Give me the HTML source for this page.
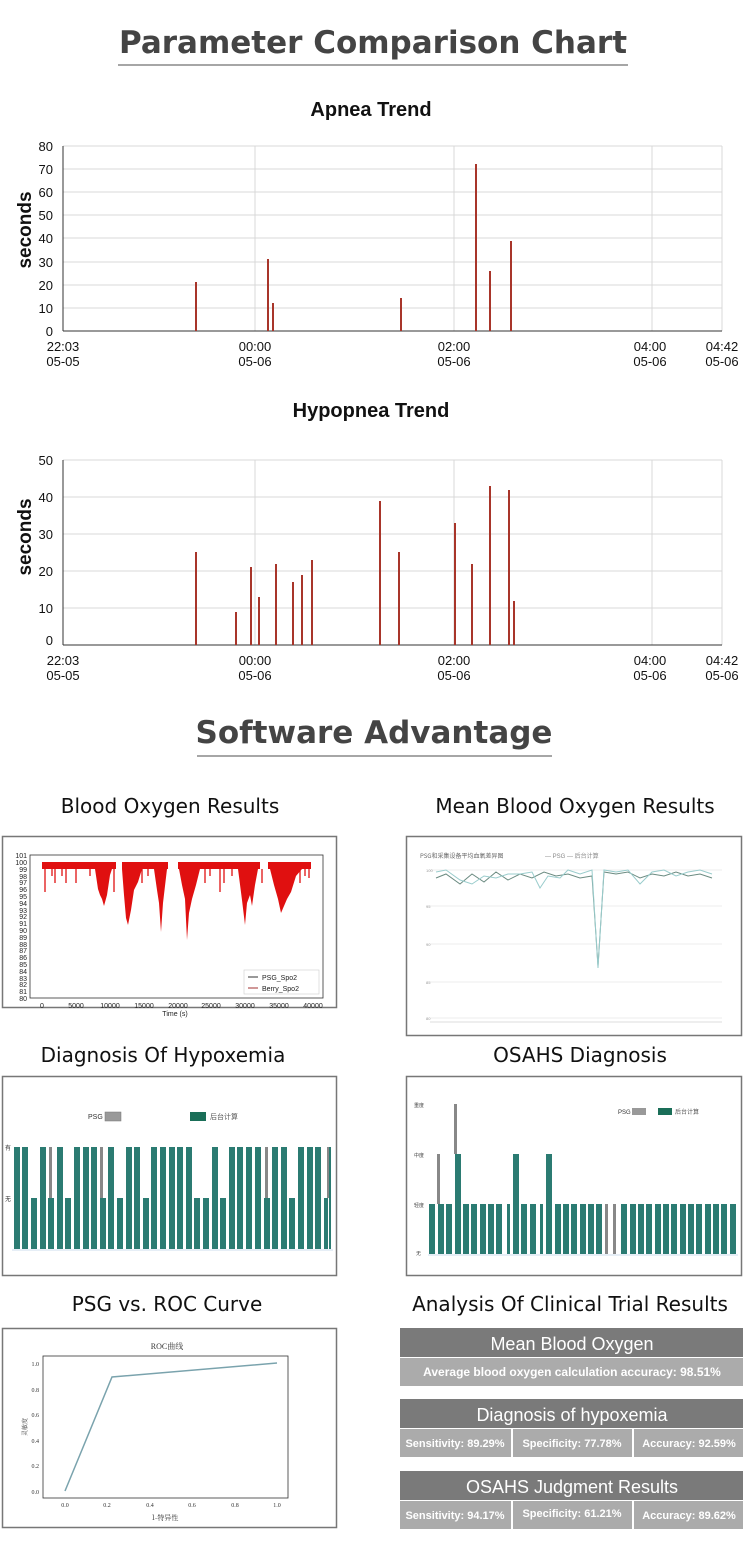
<!DOCTYPE html>
<html><head><meta charset="utf-8"><style>
body{margin:0;background:#fff;width:750px;height:1555px;overflow:hidden}
svg{display:block}
</style></head><body>
<svg width="750" height="1555" xmlns="http://www.w3.org/2000/svg" font-family="Liberation Sans, DejaVu Sans, sans-serif">
<rect width="750" height="1555" fill="#fff"/>
<!-- Main titles -->
<text x="373" y="53" text-anchor="middle" font-size="31" font-weight="bold" fill="#444" font-family="DejaVu Sans, sans-serif">Parameter Comparison Chart</text>
<line x1="118" y1="65" x2="628" y2="65" stroke="#888" stroke-width="1.5"/>
<text x="371" y="116" text-anchor="middle" font-size="20" font-weight="bold" fill="#111">Apnea Trend</text>

<!-- Apnea chart -->
<g stroke="#d8d8d8" stroke-width="1">
<line x1="63" y1="146" x2="722" y2="146"/><line x1="63" y1="169" x2="722" y2="169"/><line x1="63" y1="192" x2="722" y2="192"/><line x1="63" y1="215" x2="722" y2="215"/><line x1="63" y1="238" x2="722" y2="238"/><line x1="63" y1="262" x2="722" y2="262"/><line x1="63" y1="285" x2="722" y2="285"/><line x1="63" y1="308" x2="722" y2="308"/>
<line x1="255" y1="146" x2="255" y2="331"/><line x1="454" y1="146" x2="454" y2="331"/><line x1="652" y1="146" x2="652" y2="331"/><line x1="722" y1="146" x2="722" y2="331"/>
</g>
<line x1="63" y1="146" x2="63" y2="331" stroke="#333"/><line x1="63" y1="331" x2="722" y2="331" stroke="#333"/>
<g font-size="13" fill="#111" text-anchor="end">
<text x="53" y="151">80</text><text x="53" y="174">70</text><text x="53" y="197">60</text><text x="53" y="220">50</text><text x="53" y="243">40</text><text x="53" y="267">30</text><text x="53" y="290">20</text><text x="53" y="313">10</text><text x="53" y="336">0</text>
</g>
<text transform="translate(31,230) rotate(-90)" text-anchor="middle" font-size="19" font-weight="bold" fill="#111">seconds</text>
<g font-size="13" fill="#111" text-anchor="middle">
<text x="63" y="351">22:03</text><text x="63" y="366">05-05</text>
<text x="255" y="351">00:00</text><text x="255" y="366">05-06</text>
<text x="454" y="351">02:00</text><text x="454" y="366">05-06</text>
<text x="650" y="351">04:00</text><text x="650" y="366">05-06</text>
<text x="722" y="351">04:42</text><text x="722" y="366">05-06</text>
</g>
<g stroke="#a8352a" stroke-width="2">
<line x1="196" y1="331" x2="196" y2="282"/><line x1="268" y1="331" x2="268" y2="259"/><line x1="273" y1="331" x2="273" y2="303"/><line x1="401" y1="331" x2="401" y2="298"/><line x1="476" y1="331" x2="476" y2="164"/><line x1="490" y1="331" x2="490" y2="271"/><line x1="511" y1="331" x2="511" y2="241"/>
</g>

<!-- Hypopnea -->
<text x="371" y="417" text-anchor="middle" font-size="20" font-weight="bold" fill="#111">Hypopnea Trend</text>
<g stroke="#d8d8d8">
<line x1="63" y1="460" x2="722" y2="460"/><line x1="63" y1="497" x2="722" y2="497"/><line x1="63" y1="534" x2="722" y2="534"/><line x1="63" y1="571" x2="722" y2="571"/><line x1="63" y1="608" x2="722" y2="608"/>
<line x1="255" y1="460" x2="255" y2="645"/><line x1="454" y1="460" x2="454" y2="645"/><line x1="652" y1="460" x2="652" y2="645"/><line x1="722" y1="460" x2="722" y2="645"/>
</g>
<line x1="63" y1="460" x2="63" y2="645" stroke="#333"/><line x1="63" y1="645" x2="722" y2="645" stroke="#333"/>
<g font-size="13" fill="#111" text-anchor="end">
<text x="53" y="465">50</text><text x="53" y="502">40</text><text x="53" y="539">30</text><text x="53" y="576">20</text><text x="53" y="613">10</text><text x="53" y="645">0</text>
</g>
<text transform="translate(31,537) rotate(-90)" text-anchor="middle" font-size="19" font-weight="bold" fill="#111">seconds</text>
<g font-size="13" fill="#111" text-anchor="middle">
<text x="63" y="665">22:03</text><text x="63" y="680">05-05</text>
<text x="255" y="665">00:00</text><text x="255" y="680">05-06</text>
<text x="454" y="665">02:00</text><text x="454" y="680">05-06</text>
<text x="650" y="665">04:00</text><text x="650" y="680">05-06</text>
<text x="722" y="665">04:42</text><text x="722" y="680">05-06</text>
</g>
<g stroke="#a8352a" stroke-width="2">
<line x1="196" y1="645" x2="196" y2="552"/><line x1="236" y1="645" x2="236" y2="612"/><line x1="251" y1="645" x2="251" y2="567"/><line x1="259" y1="645" x2="259" y2="597"/><line x1="276" y1="645" x2="276" y2="564"/><line x1="293" y1="645" x2="293" y2="582"/><line x1="302" y1="645" x2="302" y2="575"/><line x1="312" y1="645" x2="312" y2="560"/><line x1="380" y1="645" x2="380" y2="501"/><line x1="399" y1="645" x2="399" y2="552"/><line x1="455" y1="645" x2="455" y2="523"/><line x1="472" y1="645" x2="472" y2="564"/><line x1="490" y1="645" x2="490" y2="486"/><line x1="509" y1="645" x2="509" y2="490"/><line x1="514" y1="645" x2="514" y2="601"/>
</g>

<!-- Software Advantage -->
<text x="374" y="743" text-anchor="middle" font-size="31" font-weight="bold" fill="#444" font-family="DejaVu Sans, sans-serif">Software Advantage</text>
<line x1="197" y1="756" x2="552" y2="756" stroke="#888" stroke-width="1.5"/>

<g font-size="20" fill="#111" text-anchor="middle" font-family="DejaVu Sans, sans-serif">
<text x="170" y="813">Blood Oxygen Results</text>
<text x="575" y="813">Mean Blood Oxygen Results</text>
<text x="163" y="1062">Diagnosis Of Hypoxemia</text>
<text x="580" y="1062">OSAHS Diagnosis</text>
<text x="167" y="1311">PSG vs. ROC Curve</text>
<text x="570" y="1311">Analysis Of Clinical Trial Results</text>
</g>

<!-- Blood Oxygen box -->
<rect x="2.5" y="836.5" width="334" height="171" fill="#fff" stroke="#777" stroke-width="1.5"/>
<rect x="30" y="855" width="293" height="143" fill="none" stroke="#333" stroke-width="0.8"/>
<g font-size="7" fill="#222" text-anchor="end">
<text x="27" y="858">101</text><text x="27" y="865">100</text><text x="27" y="872">99</text><text x="27" y="879">98</text><text x="27" y="885">97</text><text x="27" y="892">96</text><text x="27" y="899">95</text><text x="27" y="906">94</text><text x="27" y="913">93</text><text x="27" y="919">92</text><text x="27" y="926">91</text><text x="27" y="933">90</text><text x="27" y="940">89</text><text x="27" y="947">88</text><text x="27" y="953">87</text><text x="27" y="960">86</text><text x="27" y="967">85</text><text x="27" y="974">84</text><text x="27" y="981">83</text><text x="27" y="987">82</text><text x="27" y="994">81</text><text x="27" y="1001">80</text>
</g>
<g font-size="7" fill="#222" text-anchor="middle">
<text x="42" y="1008">0</text><text x="76" y="1008">5000</text><text x="110" y="1008">10000</text><text x="144" y="1008">15000</text><text x="178" y="1008">20000</text><text x="211" y="1008">25000</text><text x="245" y="1008">30000</text><text x="279" y="1008">35000</text><text x="313" y="1008">40000</text>
<text x="175" y="1016">Time (s)</text>
</g>
<g fill="#e01010">
<rect x="42" y="862" width="74" height="7"/><rect x="122" y="862" width="46" height="7"/><rect x="178" y="862" width="82" height="7"/><rect x="268" y="862" width="43" height="7"/>
<polygon points="95,869 98,889 100,895 102,899 104,906 107,895 110,875 112,869"/>
<polygon points="122,869 124,895 126,918 128,925 131,910 134,890 138,882 142,869"/>
<polygon points="154,869 157,890 159,903 161,932 163,903 167,869"/>
<polygon points="179,869 182,885 185,899 187,940 189,913 192,899 196,885 200,869"/>
<polygon points="238,869 242,900 245,925 247,903 250,895 252,906 255,885 258,869"/>
<polygon points="270,869 274,885 278,899 281,913 284,906 287,899 291,892 296,876 302,869"/>
</g>
<g stroke="#e01010" stroke-width="1.3">
<line x1="45" y1="869" x2="45" y2="892"/><line x1="52" y1="869" x2="52" y2="876"/><line x1="55" y1="869" x2="55" y2="883"/><line x1="62" y1="869" x2="62" y2="876"/><line x1="66" y1="869" x2="66" y2="883"/><line x1="76" y1="869" x2="76" y2="883"/><line x1="90" y1="869" x2="90" y2="876"/><line x1="114" y1="869" x2="114" y2="892"/><line x1="142" y1="869" x2="142" y2="883"/><line x1="148" y1="869" x2="148" y2="876"/><line x1="205" y1="869" x2="205" y2="883"/><line x1="210" y1="869" x2="210" y2="876"/><line x1="220" y1="869" x2="220" y2="892"/><line x1="224" y1="869" x2="224" y2="883"/><line x1="232" y1="869" x2="232" y2="876"/><line x1="262" y1="869" x2="262" y2="883"/><line x1="300" y1="869" x2="300" y2="883"/><line x1="305" y1="869" x2="305" y2="876"/><line x1="309" y1="869" x2="309" y2="878"/>
</g>
<rect x="244" y="970" width="75" height="24" fill="#fff" stroke="#ccc" stroke-width="0.6"/>
<line x1="248" y1="977" x2="258" y2="977" stroke="#333"/><line x1="248" y1="988" x2="258" y2="988" stroke="#a03030"/>
<text x="262" y="980" font-size="7" fill="#222">PSG_Spo2</text><text x="262" y="991" font-size="7" fill="#222">Berry_Spo2</text>

<!-- Mean blood oxygen box -->
<rect x="406.5" y="836.5" width="335" height="199" fill="#fff" stroke="#777" stroke-width="1.5"/>
<text x="420" y="858" font-size="6" fill="#666" font-family="Noto Sans CJK SC, sans-serif">PSG和采集设备平均血氧差异图</text>
<text x="545" y="858" font-size="6" fill="#888">— PSG — 后台计算</text>
<g stroke="#eee"><line x1="430" y1="870" x2="722" y2="870"/><line x1="430" y1="906" x2="722" y2="906"/><line x1="430" y1="944" x2="722" y2="944"/><line x1="430" y1="982" x2="722" y2="982"/><line x1="430" y1="1018" x2="722" y2="1018"/></g>
<polyline fill="none" stroke="#6a8a80" stroke-width="1" points="436,878 446,874 460,884 472,874 484,882 496,872 508,880 520,874 532,878 544,872 556,876 568,874 580,878 592,876 598,966 604,872 616,874 628,872 640,878 652,874 664,876 676,872 688,876 700,874 712,878"/>
<polyline fill="none" stroke="#9cc" stroke-width="1" points="436,872 446,870 460,880 472,884 484,876 496,878 508,874 520,874 532,872 540,888 548,876 560,878 568,870 580,874 592,870 598,968 604,870 616,872 628,870 640,884 652,872 664,870 676,876 688,872 700,870 712,874"/>
<g font-size="4" fill="#999"><text x="426" y="872">100</text><text x="426" y="908">95</text><text x="426" y="946">90</text><text x="426" y="984">85</text><text x="426" y="1020">80</text></g>
<line x1="430" y1="1022" x2="722" y2="1022" stroke="#ddd"/>

<!-- Hypoxemia box -->
<rect x="2.5" y="1076.5" width="334" height="199" fill="#fff" stroke="#777" stroke-width="1.5"/>
<text x="88" y="1119" font-size="7" fill="#333">PSG</text><rect x="105" y="1112" width="16" height="9" fill="#999" stroke="#777" stroke-width="0.5"/>
<rect x="190" y="1112" width="16" height="9" fill="#1a6e58"/><text x="210" y="1119" font-size="7" fill="#555" font-family="Noto Sans CJK SC, sans-serif">后台计算</text>
<text x="5" y="1150" font-size="6" fill="#333" font-family="Noto Sans CJK SC, sans-serif">有</text><text x="5" y="1201" font-size="6" fill="#333" font-family="Noto Sans CJK SC, sans-serif">无</text>
<g fill="#888">
<rect x="49" y="1147" width="3" height="51"/><rect x="100" y="1147" width="3" height="51"/><rect x="265" y="1147" width="3" height="51"/><rect x="327" y="1147" width="3" height="51"/>
</g>
<g fill="#2b7b72">
<rect x="14" y="1147" width="6" height="102"/><rect x="22" y="1147" width="6" height="102"/><rect x="31" y="1198" width="6" height="51"/><rect x="40" y="1147" width="6" height="102"/><rect x="48" y="1198" width="6" height="51"/><rect x="57" y="1147" width="6" height="102"/><rect x="65" y="1198" width="6" height="51"/><rect x="74" y="1147" width="6" height="102"/><rect x="83" y="1147" width="6" height="102"/><rect x="91" y="1147" width="6" height="102"/><rect x="100" y="1198" width="6" height="51"/><rect x="108" y="1147" width="6" height="102"/><rect x="117" y="1198" width="6" height="51"/><rect x="126" y="1147" width="6" height="102"/><rect x="134" y="1147" width="6" height="102"/><rect x="143" y="1198" width="6" height="51"/><rect x="151" y="1147" width="6" height="102"/><rect x="160" y="1147" width="6" height="102"/><rect x="169" y="1147" width="6" height="102"/><rect x="177" y="1147" width="6" height="102"/><rect x="186" y="1147" width="6" height="102"/><rect x="194" y="1198" width="6" height="51"/><rect x="203" y="1198" width="6" height="51"/><rect x="212" y="1147" width="6" height="102"/><rect x="220" y="1198" width="6" height="51"/><rect x="229" y="1147" width="6" height="102"/><rect x="237" y="1147" width="6" height="102"/><rect x="246" y="1147" width="6" height="102"/><rect x="255" y="1147" width="6" height="102"/><rect x="264" y="1198" width="6" height="51"/><rect x="272" y="1147" width="6" height="102"/><rect x="281" y="1147" width="6" height="102"/><rect x="289" y="1198" width="6" height="51"/><rect x="298" y="1147" width="6" height="102"/><rect x="307" y="1147" width="6" height="102"/><rect x="315" y="1147" width="6" height="102"/><rect x="324" y="1198" width="4" height="51"/><rect x="329" y="1147" width="2" height="102"/>
</g>
<line x1="12" y1="1250" x2="333" y2="1250" stroke="#cde"/>

<!-- OSAHS box -->
<rect x="406.5" y="1076.5" width="335" height="199" fill="#fff" stroke="#777" stroke-width="1.5"/>
<g font-size="5" fill="#444" font-family="Noto Sans CJK SC, sans-serif"><text x="414" y="1107">重度</text><text x="414" y="1157">中度</text><text x="414" y="1207">轻度</text><text x="416" y="1255">无</text></g>
<text x="618" y="1114" font-size="6" fill="#333">PSG</text><rect x="632" y="1108" width="14" height="7" fill="#999"/>
<rect x="658" y="1108" width="14" height="7" fill="#1a6e58"/><text x="675" y="1114" font-size="6" fill="#555" font-family="Noto Sans CJK SC, sans-serif">后台计算</text>
<g fill="#888"><rect x="437" y="1154" width="3" height="50"/><rect x="454" y="1104" width="3" height="50"/><rect x="605" y="1204" width="3" height="50"/><rect x="613" y="1204" width="3" height="50"/></g>
<g fill="#2b7b72">
<rect x="429" y="1204" width="6" height="50"/><rect x="438" y="1204" width="6" height="50"/><rect x="446" y="1204" width="6" height="50"/><rect x="455" y="1154" width="6" height="100"/><rect x="463" y="1204" width="6" height="50"/><rect x="471" y="1204" width="6" height="50"/><rect x="480" y="1204" width="6" height="50"/><rect x="488" y="1204" width="6" height="50"/><rect x="496" y="1204" width="6" height="50"/><rect x="507" y="1204" width="3" height="50"/><rect x="513" y="1154" width="6" height="100"/><rect x="521" y="1204" width="6" height="50"/><rect x="530" y="1204" width="6" height="50"/><rect x="540" y="1204" width="3" height="50"/><rect x="546" y="1154" width="6" height="100"/><rect x="555" y="1204" width="6" height="50"/><rect x="563" y="1204" width="6" height="50"/><rect x="571" y="1204" width="6" height="50"/><rect x="580" y="1204" width="6" height="50"/><rect x="588" y="1204" width="6" height="50"/><rect x="596" y="1204" width="6" height="50"/><rect x="621" y="1204" width="6" height="50"/><rect x="630" y="1204" width="6" height="50"/><rect x="638" y="1204" width="6" height="50"/><rect x="646" y="1204" width="6" height="50"/><rect x="655" y="1204" width="6" height="50"/><rect x="663" y="1204" width="6" height="50"/><rect x="671" y="1204" width="6" height="50"/><rect x="680" y="1204" width="6" height="50"/><rect x="688" y="1204" width="6" height="50"/><rect x="696" y="1204" width="6" height="50"/><rect x="705" y="1204" width="6" height="50"/><rect x="713" y="1204" width="6" height="50"/><rect x="721" y="1204" width="6" height="50"/><rect x="730" y="1204" width="6" height="50"/>
</g>
<line x1="428" y1="1255" x2="738" y2="1255" stroke="#cde"/>

<!-- ROC box -->
<rect x="2.5" y="1328.5" width="334" height="199" fill="#fff" stroke="#777" stroke-width="1.5"/>
<text x="167" y="1349" text-anchor="middle" font-size="8" fill="#333" font-family="Liberation Serif, Noto Serif CJK SC, serif">ROC曲线</text>
<rect x="43" y="1356" width="245" height="142" fill="none" stroke="#333" stroke-width="0.8"/>
<polyline fill="none" stroke="#7aa3ad" stroke-width="1.5" points="65,1491 112,1377 277,1363"/>
<g font-size="6" fill="#333" text-anchor="end" font-family="Liberation Serif, serif">
<text x="39" y="1366">1.0</text><text x="39" y="1392">0.8</text><text x="39" y="1417">0.6</text><text x="39" y="1443">0.4</text><text x="39" y="1468">0.2</text><text x="39" y="1494">0.0</text>
</g>
<g font-size="6" fill="#333" text-anchor="middle" font-family="Liberation Serif, serif">
<text x="65" y="1507">0.0</text><text x="107" y="1507">0.2</text><text x="150" y="1507">0.4</text><text x="192" y="1507">0.6</text><text x="235" y="1507">0.8</text><text x="277" y="1507">1.0</text>
</g>
<text x="165" y="1520" text-anchor="middle" font-size="7" fill="#333" font-family="Noto Serif CJK SC, serif">1-特异性</text>
<text transform="translate(27,1427) rotate(-90)" text-anchor="middle" font-size="6" fill="#333" font-family="Noto Serif CJK SC, serif">灵敏度</text>

<!-- Tables -->
<g font-family="Liberation Sans, sans-serif">
<rect x="400" y="1328" width="343" height="29" fill="#7a7a7a"/>
<text x="572" y="1350" text-anchor="middle" font-size="18" fill="#fff">Mean Blood Oxygen</text>
<rect x="400" y="1358" width="343" height="28" fill="#ababab"/>
<text x="572" y="1376" text-anchor="middle" font-size="12" fill="#fff" font-weight="bold">Average blood oxygen calculation accuracy: 98.51%</text>

<rect x="400" y="1399" width="343" height="29" fill="#7a7a7a"/>
<text x="572" y="1421" text-anchor="middle" font-size="18" fill="#fff">Diagnosis of hypoxemia</text>
<rect x="400" y="1429" width="111" height="28" fill="#ababab"/><rect x="513" y="1429" width="119" height="28" fill="#ababab"/><rect x="634" y="1429" width="109" height="28" fill="#ababab"/>
<g font-size="11" fill="#fff" font-weight="bold" text-anchor="middle">
<text x="455" y="1447">Sensitivity: 89.29%</text><text x="572" y="1447">Specificity: 77.78%</text><text x="689" y="1447">Accuracy: 92.59%</text>
</g>
<rect x="400" y="1471" width="343" height="29" fill="#7a7a7a"/>
<text x="572" y="1493" text-anchor="middle" font-size="18" fill="#fff">OSAHS Judgment Results</text>
<rect x="400" y="1501" width="111" height="28" fill="#ababab"/><rect x="513" y="1501" width="119" height="28" fill="#ababab"/><rect x="634" y="1501" width="109" height="28" fill="#ababab"/>
<g font-size="11" fill="#fff" font-weight="bold" text-anchor="middle">
<text x="455" y="1519">Sensitivity: 94.17%</text><text x="572" y="1517">Specificity: 61.21%</text><text x="689" y="1519">Accuracy: 89.62%</text>
</g>
</g>
</svg>
</body></html>
